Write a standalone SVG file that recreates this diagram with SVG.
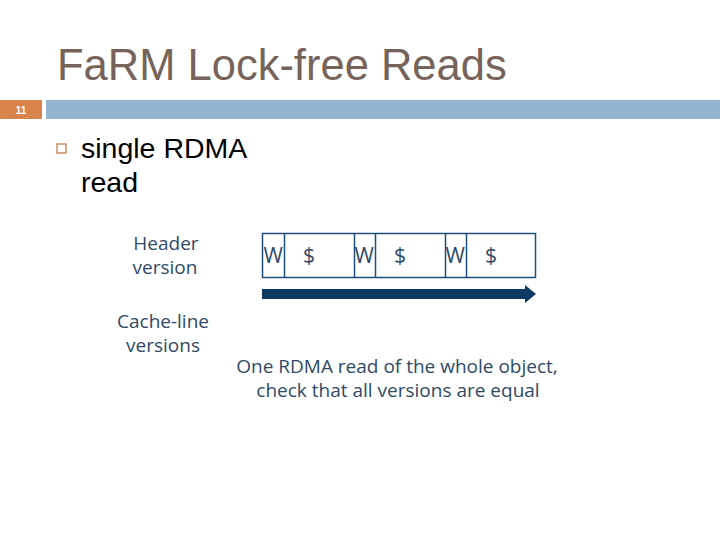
<svg xmlns="http://www.w3.org/2000/svg" width="720" height="540" viewBox="0 0 720 540">
<style>
.title{font-family:"Liberation Sans",Arial,sans-serif;font-size:43.5px;fill:#76645b}
.body{font-family:"Liberation Sans",Arial,sans-serif;font-size:28.5px;fill:#000}
.lbl{font-family:"Open Sans","Noto Sans",sans-serif;font-size:19px;fill:#2f4a66;text-anchor:middle}
.cell{fill:#fff;stroke:#1f4e79;stroke-width:1.5}
.cellt{font-family:"Open Sans","Noto Sans",sans-serif;font-size:21px;fill:#2f4a66}
</style>
<rect width="720" height="540" fill="#fff"/>
<text class="title" x="57" y="80">FaRM Lock-free Reads</text>
<rect x="0" y="100" width="42" height="19" fill="#d9844c"/>
<text x="21" y="114" font-family="Liberation Sans,Arial,sans-serif" font-size="10" font-weight="bold" fill="#fff" text-anchor="middle">11</text>
<rect x="46" y="100" width="674" height="19" fill="#93b5d1"/>
<rect x="57" y="144" width="9" height="9" fill="none" stroke="#c87a4a" stroke-width="1.3"/>
<text class="body" x="81" y="158">single RDMA</text>
<text class="body" x="81" y="192">read</text>
<g id="labels">
<text class="lbl" x="166" y="250">Header</text>
<text class="lbl" x="165" y="274">version</text>
<text class="lbl" x="163" y="328">Cache-line</text>
<text class="lbl" x="163" y="352">versions</text>
<text class="lbl" x="397" y="373">One RDMA read of the whole object,</text>
<text class="lbl" x="398" y="397">check that all versions are equal</text>
</g>
<g id="object">
<rect class="cell" x="262.5" y="233.5" width="273" height="44"/>
<line class="cell" x1="284.5" y1="233.5" x2="284.5" y2="277.5"/>
<line class="cell" x1="354.5" y1="233.5" x2="354.5" y2="277.5"/>
<line class="cell" x1="375.5" y1="233.5" x2="375.5" y2="277.5"/>
<line class="cell" x1="445.5" y1="233.5" x2="445.5" y2="277.5"/>
<line class="cell" x1="466.5" y1="233.5" x2="466.5" y2="277.5"/>
<text class="cellt" x="263.5" y="263">W</text>
<text class="cellt" x="303" y="263">$</text>
<text class="cellt" x="354.5" y="263">W</text>
<text class="cellt" x="394" y="263">$</text>
<text class="cellt" x="445.5" y="263">W</text>
<text class="cellt" x="485" y="263">$</text>
</g>
<g id="connectors">
<polygon points="262,289 525,289 525,285 536,294 525,303 525,299 262,299" fill="#0d3a63"/>
</g>
</svg>
